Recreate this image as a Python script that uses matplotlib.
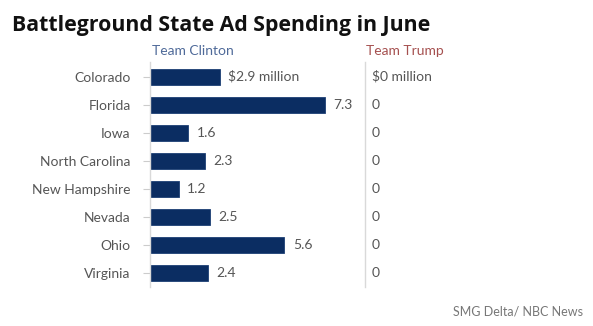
import numpy as np
import matplotlib.pyplot as plt

states = ['Colorado', 'Florida', 'Iowa', 'North Carolina', 'New Hampshire',
          'Nevada', 'Ohio', 'Virginia']
clinton = [2.9, 7.3, 1.6, 2.3, 1.2, 2.5, 5.6, 2.4]
trump = [0, 0, 0, 0, 0, 0, 0, 0]

plt.rcParams['font.family'] = ['Lato', 'DejaVu Sans']

W, H = 593, 326
fig = plt.figure(figsize=(W / 100, H / 100), dpi=100)

navy = '#0b2d62'
grey = '#555555'
line = '#d9d9d9'

y = np.arange(len(states))
bottom = (H - 287) / H
height = 225 / H

ax1 = fig.add_axes([150 / W, bottom, 200 / W, height])
ax2 = fig.add_axes([365 / W, bottom, 200 / W, height])

bars = ax1.barh(y, clinton, height=0.57, color=navy, edgecolor='#1c3f75', linewidth=0.6)
lab1 = ['$%.1f million' % clinton[0]] + ['%.1f' % v for v in clinton[1:]]
ax1.bar_label(bars, labels=lab1, padding=6, color=grey, fontsize=10)

bars2 = ax2.barh(y, trump, height=0.57, color=navy)
lab2 = ['$%d million' % trump[0]] + ['%d' % v for v in trump[1:]]
ax2.bar_label(bars2, labels=lab2, padding=5, color=grey, fontsize=10)

for ax in (ax1, ax2):
    ax.set_xlim(0, 200 / 24)
    ax.set_ylim(7.5, -0.52)
    for s in ['top', 'right', 'bottom']:
        ax.spines[s].set_visible(False)
    ax.spines['left'].set_color(line)
    ax.spines['left'].set_linewidth(1)
    ax.set_xticks([])

ax1.set_yticks(y)
ax1.set_yticklabels(states, fontsize=10, color=grey)
ax1.tick_params(axis='y', length=5, width=0.8, color='#cccccc', pad=9)
ax2.set_yticks([])

fig.text(12 / W, 1 - 31 / H, 'Battleground State Ad Spending in June',
         fontsize=15.3, fontweight='bold', color='#111111', va='baseline',
         family=['Open Sans', 'DejaVu Sans'])
fig.text(152 / W, 1 - 55 / H, 'Team Clinton', fontsize=10, color='#4f6a99', va='baseline')
fig.text(366 / W, 1 - 55 / H, 'Team Trump', fontsize=10, color='#a5504f', va='baseline')
fig.text(583 / W, 1 - 316 / H, 'SMG Delta/ NBC News', fontsize=9, color='#777777',
         va='baseline', ha='right')

fig.savefig('out.png', dpi=100)
